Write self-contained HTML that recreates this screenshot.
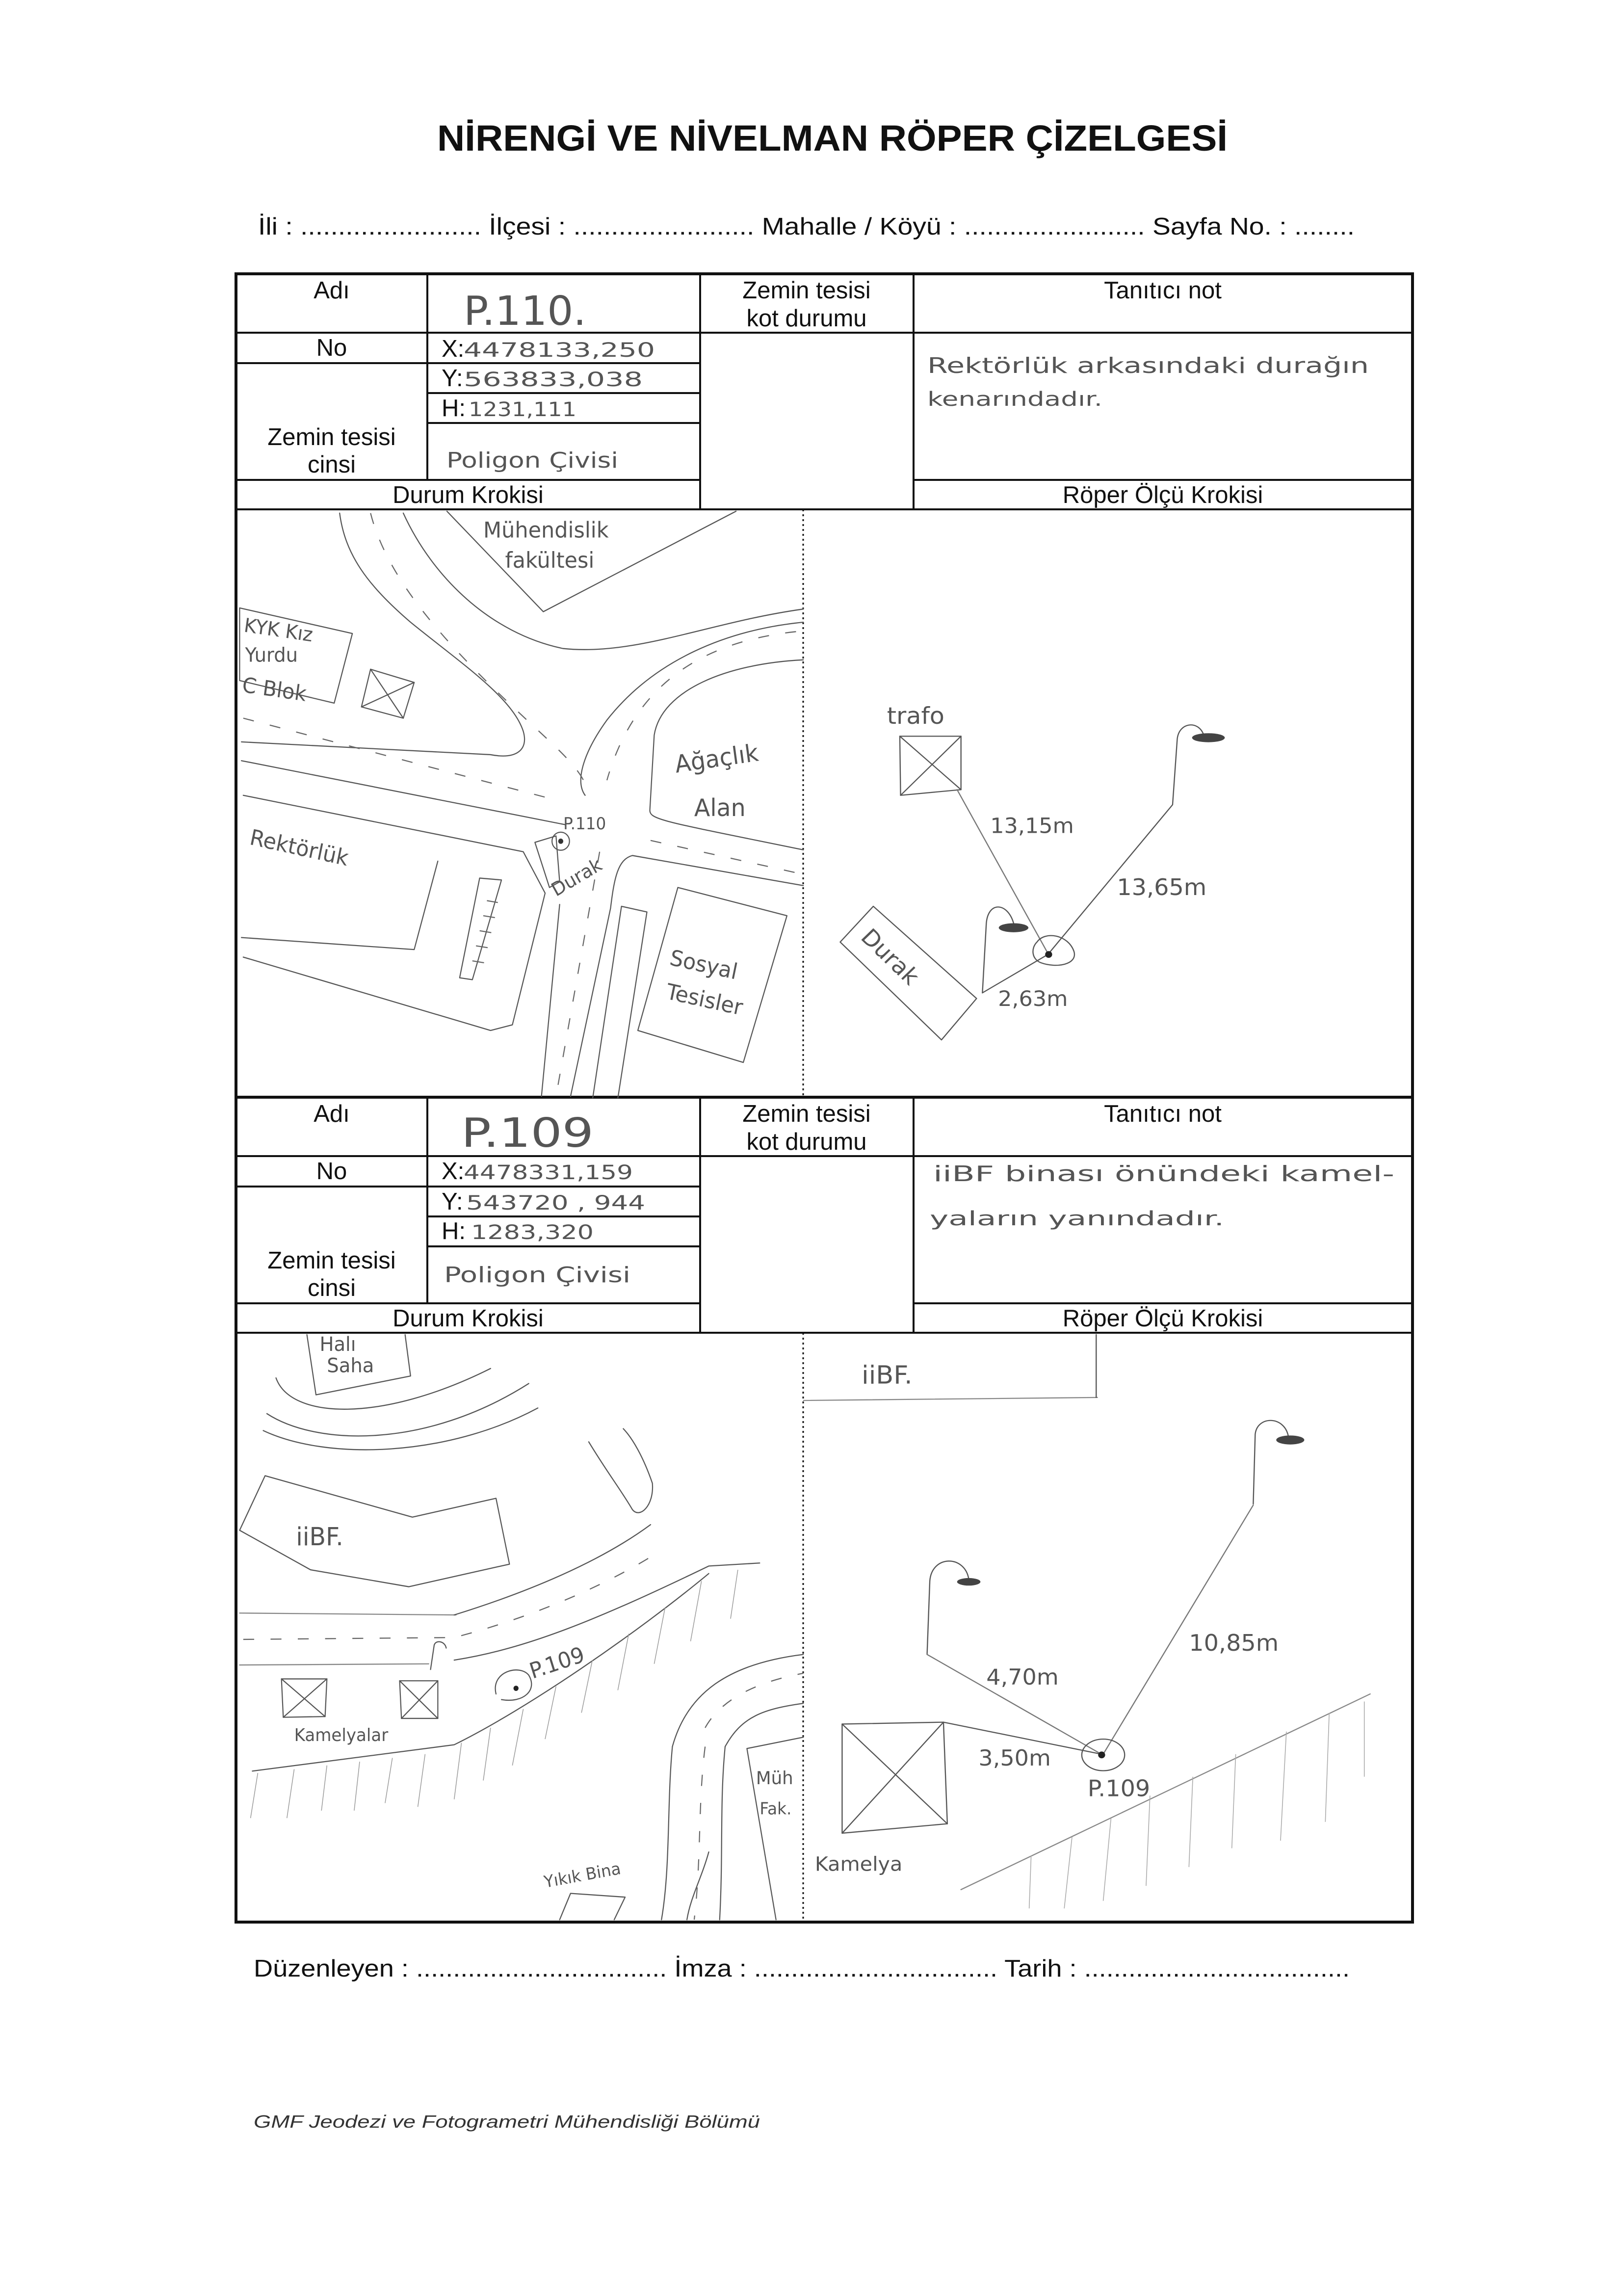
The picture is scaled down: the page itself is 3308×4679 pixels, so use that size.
<!DOCTYPE html>
<html><head><meta charset="utf-8">
<style>
html,body{margin:0;padding:0;background:#fff;}
svg{display:block;}
.lbl{font-family:"Liberation Sans",sans-serif;font-size:49px;fill:#111;}
.hw{font-family:"DejaVu Sans","Liberation Sans",sans-serif;fill:#555;}
</style></head>
<body>
<svg width="3308" height="4679" viewBox="0 0 3308 4679" xmlns="http://www.w3.org/2000/svg">
<rect width="3308" height="4679" fill="#fff"/>
<text x="891" y="307" font-family="Liberation Sans" font-weight="bold" font-size="74" textLength="1611" lengthAdjust="spacingAndGlyphs" fill="#111">NİRENGİ VE NİVELMAN RÖPER ÇİZELGESİ</text>
<text x="526" y="478" class="lbl" font-size="50" textLength="2235" lengthAdjust="spacingAndGlyphs">İli : ........................ İlçesi : ........................ Mahalle / Köyü : ........................ Sayfa No. : ........</text>

<!-- table frame -->
<g stroke="#111" fill="none">
<rect x="481" y="558" width="2398" height="3359" stroke-width="6"/>
</g>

<!-- block template -->
<g id="b1" stroke="#111" stroke-width="4" fill="none">
<line x1="481" y1="678" x2="2879" y2="678"/>
<line x1="481" y1="740" x2="1427" y2="740"/>
<line x1="871" y1="801" x2="1427" y2="801"/>
<line x1="871" y1="862" x2="1427" y2="862"/>
<line x1="481" y1="978" x2="1427" y2="978"/>
<line x1="1862" y1="978" x2="2879" y2="978"/>
<line x1="481" y1="1038" x2="2879" y2="1038"/>
<line x1="871" y1="558" x2="871" y2="978"/>
<line x1="1427" y1="558" x2="1427" y2="1038"/>
<line x1="1862" y1="558" x2="1862" y2="1038"/>
<line x1="1637" y1="1038" x2="1637" y2="2236" stroke-width="3" stroke-dasharray="4 6"/>
<line x1="481" y1="2236" x2="2879" y2="2236" stroke-width="6"/>
</g>
<g transform="translate(0,1678)" stroke="#111" stroke-width="4" fill="none">
<line x1="481" y1="678" x2="2879" y2="678"/>
<line x1="481" y1="740" x2="1427" y2="740"/>
<line x1="871" y1="801" x2="1427" y2="801"/>
<line x1="871" y1="862" x2="1427" y2="862"/>
<line x1="481" y1="978" x2="1427" y2="978"/>
<line x1="1862" y1="978" x2="2879" y2="978"/>
<line x1="481" y1="1038" x2="2879" y2="1038"/>
<line x1="871" y1="558" x2="871" y2="978"/>
<line x1="1427" y1="558" x2="1427" y2="1038"/>
<line x1="1862" y1="558" x2="1862" y2="1038"/>
<line x1="1637" y1="1038" x2="1637" y2="2239" stroke-width="3" stroke-dasharray="4 6"/>
</g>

<!-- labels block 1 and 2 -->
<g class="lbl" text-anchor="middle">
<text x="676" y="608">Adı</text>
<text x="676" y="725">No</text>
<text x="676" y="907">Zemin tesisi</text>
<text x="676" y="963">cinsi</text>
<text x="954" y="1025">Durum Krokisi</text>
<text x="1644" y="608">Zemin tesisi</text>
<text x="1644" y="665">kot durumu</text>
<text x="2370" y="608">Tanıtıcı not</text>
<text x="2370" y="1025">Röper Ölçü Krokisi</text>
</g>
<g class="lbl" text-anchor="middle" transform="translate(0,1678)">
<text x="676" y="608">Adı</text>
<text x="676" y="725">No</text>
<text x="676" y="907">Zemin tesisi</text>
<text x="676" y="963">cinsi</text>
<text x="954" y="1025">Durum Krokisi</text>
<text x="1644" y="608">Zemin tesisi</text>
<text x="1644" y="665">kot durumu</text>
<text x="2370" y="608">Tanıtıcı not</text>
<text x="2370" y="1025">Röper Ölçü Krokisi</text>
</g>
<g class="lbl">
<text x="900" y="727">X:</text><text x="900" y="787">Y:</text><text x="900" y="848">H:</text>
<text x="900" y="2403">X:</text><text x="900" y="2465">Y:</text><text x="900" y="2525">H:</text>
</g>
<!-- handwritten values -->
<g class="hw">
<text x="945" y="662" font-size="82" textLength="250" lengthAdjust="spacingAndGlyphs">P.110.</text>
<text x="945" y="727" font-size="40" textLength="390" lengthAdjust="spacingAndGlyphs">4478133,250</text>
<text x="945" y="787" font-size="40" textLength="365" lengthAdjust="spacingAndGlyphs">563833,038</text>
<text x="955" y="848" font-size="40" textLength="220" lengthAdjust="spacingAndGlyphs">1231,111</text>
<text x="910" y="953" font-size="44" textLength="350" lengthAdjust="spacingAndGlyphs">Poligon Çivisi</text>
<text x="1890" y="760" font-size="44" textLength="900" lengthAdjust="spacingAndGlyphs">Rektörlük arkasındaki durağın</text>
<text x="1890" y="827" font-size="40" textLength="357" lengthAdjust="spacingAndGlyphs">kenarındadır.</text>

<text x="940" y="2337" font-size="82" textLength="270" lengthAdjust="spacingAndGlyphs">P.109</text>
<text x="945" y="2403" font-size="40" textLength="345" lengthAdjust="spacingAndGlyphs">4478331,159</text>
<text x="950" y="2465" font-size="40" textLength="365" lengthAdjust="spacingAndGlyphs">543720 , 944</text>
<text x="960" y="2525" font-size="40" textLength="250" lengthAdjust="spacingAndGlyphs">1283,320</text>
<text x="905" y="2613" font-size="44" textLength="380" lengthAdjust="spacingAndGlyphs">Poligon Çivisi</text>
<text x="1902" y="2407" font-size="44" textLength="940" lengthAdjust="spacingAndGlyphs">iiBF binası önündeki kamel-</text>
<text x="1895" y="2497" font-size="40" textLength="600" lengthAdjust="spacingAndGlyphs">yaların yanındadır.</text>
</g>

<!-- Sketch 1: Durum Krokisi top -->
<svg x="481" y="1038" width="1160" height="1200" viewBox="0 0 1565 1565" preserveAspectRatio="none">
<g fill="none" stroke="#555" stroke-width="3" vector-effect="non-scaling-stroke" stroke-linecap="round" stroke-linejoin="round">
<polyline points="580,5 845,272 1375,5"/>
<path d="M285,10 C300,120 360,200 480,300 C620,410 760,500 790,590 C805,640 770,665 700,652 L15,618"/>
<path d="M460,10 C540,180 700,330 900,370 C1100,390 1300,300 1560,265"/>
<path d="M1560,300 C1350,320 1150,400 1020,560 C960,640 930,720 960,760"/>
<path d="M1560,400 C1350,410 1170,480 1150,600 L1138,800 C1138,825 1180,830 1560,905"/>
<path d="M1560,1000 L1090,920 C1050,930 1040,980 1030,1060 L920,1560"/>
<line x1="15" y1="668" x2="905" y2="838"/>
<path d="M20,760 L790,910 L850,1020 L760,1370 L700,1385 L20,1190"/>
<polyline points="15,1138 490,1170 555,935"/>
<line x1="890" y1="1050" x2="840" y2="1560"/>
<polygon points="10,262 320,330 270,515 10,455"/>
<polygon points="370,425 490,460 460,555 345,525"/>
<line x1="370" y1="425" x2="460" y2="555"/><line x1="490" y1="460" x2="345" y2="525"/>
<polygon points="670,980 730,985 650,1250 615,1245"/>
<polygon points="822,885 880,868 890,990 862,1005"/>
<polygon points="1060,1055 1130,1070 1025,1720 960,1700"/>
<polygon points="1215,1005 1515,1080 1395,1470 1105,1385"/>
<circle cx="893" cy="882" r="24"/>
</g>
<g fill="none" stroke="#666" stroke-width="3" stroke-dasharray="30 45" vector-effect="non-scaling-stroke">
<line x1="20" y1="555" x2="870" y2="770"/>
<path d="M370,10 C420,200 600,380 800,560 C900,650 960,700 970,760"/>
<path d="M1540,325 C1300,350 1100,450 1020,720"/>
<line x1="1140" y1="880" x2="1560" y2="970"/>
<line x1="1000" y1="910" x2="880" y2="1560"/>
</g>
<g stroke="#666" stroke-width="3" vector-effect="non-scaling-stroke">
<line x1="690" y1="1040" x2="720" y2="1045"/><line x1="680" y1="1080" x2="712" y2="1085"/>
<line x1="670" y1="1120" x2="702" y2="1125"/><line x1="660" y1="1160" x2="692" y2="1165"/>
<line x1="650" y1="1200" x2="682" y2="1205"/>
</g>
<circle cx="893" cy="882" r="7" fill="#333"/>
<g class="hw" font-size="58" fill="#555">
<text x="680" y="75">Mühendislik</text>
<text x="740" y="155">fakültesi</text>
<text x="20" y="325" font-size="52" transform="rotate(8 20 325)">KYK Kız</text>
<text x="25" y="405" font-size="52">Yurdu</text>
<text x="15" y="485" font-size="56" transform="rotate(8 15 485)">C Blok</text>
<text x="1210" y="700" font-size="64" transform="rotate(-8 1210 700)">Ağaçlık</text>
<text x="1260" y="815" font-size="64">Alan</text>
<text x="35" y="890" font-size="58" transform="rotate(12 35 890)">Rektörlük</text>
<text x="1190" y="1210" font-size="58" transform="rotate(12 1190 1210)">Sosyal</text>
<text x="1180" y="1300" font-size="58" transform="rotate(12 1180 1300)">Tesisler</text>
<text x="880" y="1030" font-size="50" transform="rotate(-30 880 1030)">Durak</text>
<text x="900" y="850" font-size="44">P.110</text>
</g>
</svg>

<!-- Sketch 2: Röper top -->
<svg x="1637" y="1038" width="1243" height="1200" viewBox="0 0 1565 1565" preserveAspectRatio="none">
<g fill="none" stroke="#555" stroke-width="3" vector-effect="non-scaling-stroke" stroke-linecap="round" stroke-linejoin="round">
<polygon points="248,603 405,603 405,745 250,760"/>
<line x1="248" y1="603" x2="405" y2="745"/><line x1="405" y1="603" x2="250" y2="760"/>
<line x1="395" y1="745" x2="628" y2="1180" stroke="#777"/>
<path d="M460,1285 L470,1100 C475,1040 525,1045 540,1100"/>
<line x1="460" y1="1285" x2="628" y2="1183"/>
<path d="M600,1150 C620,1120 680,1130 695,1175 C705,1210 650,1220 610,1205 C585,1195 585,1165 600,1150 Z"/>
<path d="M628,1183 L948,785 L960,610 C965,565 1015,560 1028,600"/>
<polygon points="180,1055 445,1300 355,1410 95,1150"/>
</g>
<ellipse cx="540" cy="1112" rx="38" ry="12" fill="#444"/>
<ellipse cx="1040" cy="607" rx="42" ry="12" fill="#444"/>
<circle cx="630" cy="1183" r="9" fill="#222"/>
<g class="hw" font-size="56" fill="#555">
<text x="215" y="570" font-size="62">trafo</text>
<text x="480" y="860">13,15m</text>
<text x="805" y="1025" font-size="60">13,65m</text>
<text x="500" y="1320">2,63m</text>
<text x="145" y="1140" font-size="60" transform="rotate(45 145 1140)">Durak</text>
</g>
</svg>

<!-- Sketch 3: Durum bottom -->
<svg x="481" y="2716" width="1160" height="1200" viewBox="0 0 1565 1565" preserveAspectRatio="none">
<g fill="none" stroke="#555" stroke-width="3" vector-effect="non-scaling-stroke" stroke-linecap="round" stroke-linejoin="round">
<polyline points="195,5 220,165 480,115 465,5"/>
<path d="M110,120 C150,230 400,240 700,95"/>
<path d="M85,215 C220,300 520,310 805,135"/>
<path d="M75,260 C250,340 580,330 830,200"/>
<polygon points="80,380 485,490 715,440 752,615 475,675 205,630 10,525"/>
<line x1="10" y1="745" x2="605" y2="750" stroke="#888"/>
<line x1="10" y1="883" x2="530" y2="880" stroke="#888"/>
<path d="M600,750 C800,690 1000,610 1140,510"/>
<path d="M600,870 C800,840 1000,760 1300,620 L1440,612"/>
<path d="M970,290 C1020,370 1060,420 1090,470 C1110,495 1150,460 1145,400 C1120,330 1090,280 1065,255"/>
<path d="M535,895 L545,830 C550,815 575,820 578,838"/>
<polygon points="125,920 250,920 245,1020 130,1022"/>
<line x1="125" y1="920" x2="245" y2="1020"/><line x1="250" y1="920" x2="130" y2="1022"/>
<polygon points="450,925 555,925 555,1025 455,1025"/>
<line x1="450" y1="925" x2="555" y2="1025"/><line x1="555" y1="925" x2="455" y2="1025"/>
<path d="M715,960 C700,900 780,880 805,910 C830,950 790,985 730,975"/>
<path d="M45,1165 L600,1095 C800,1000 1100,800 1300,640"/>
<path d="M1200,1100 C1240,960 1350,880 1560,855"/>
<path d="M1345,1100 C1390,1020 1450,1000 1560,985"/>
<path d="M1200,1100 C1185,1250 1195,1420 1170,1560"/>
<path d="M1345,1100 C1330,1250 1340,1380 1330,1560"/>
<path d="M1300,1380 C1280,1450 1250,1500 1240,1560"/>
<polyline points="1485,1560 1405,1105 1560,1075"/>
<polyline points="890,1560 920,1490 1070,1500 1040,1560"/>
</g>
<g stroke="#999" stroke-width="2" vector-effect="non-scaling-stroke">
<line x1="60" y1="1170" x2="40" y2="1290"/><line x1="160" y1="1160" x2="140" y2="1290"/>
<line x1="250" y1="1150" x2="235" y2="1270"/><line x1="340" y1="1140" x2="325" y2="1270"/>
<line x1="430" y1="1130" x2="410" y2="1250"/><line x1="520" y1="1120" x2="500" y2="1260"/>
<line x1="620" y1="1090" x2="600" y2="1240"/><line x1="700" y1="1050" x2="680" y2="1190"/>
<line x1="790" y1="1000" x2="760" y2="1150"/><line x1="880" y1="940" x2="850" y2="1080"/>
<line x1="980" y1="870" x2="950" y2="1010"/><line x1="1080" y1="800" x2="1050" y2="950"/>
<line x1="1180" y1="730" x2="1150" y2="880"/><line x1="1280" y1="660" x2="1250" y2="820"/>
<line x1="1380" y1="630" x2="1360" y2="760"/>
</g>
<g fill="none" stroke="#666" stroke-width="3" stroke-dasharray="30 45" vector-effect="non-scaling-stroke">
<path d="M20,815 L600,810 C800,760 1000,680 1150,590"/>
<path d="M1290,1050 C1330,980 1420,930 1560,905"/>
<path d="M1290,1100 C1270,1250 1280,1400 1260,1560"/>
</g>
<circle cx="770" cy="945" r="7" fill="#222"/>
<g class="hw" font-size="52" fill="#555">
<text x="230" y="48">Halı</text>
<text x="250" y="105">Saha</text>
<text x="165" y="565" font-size="66">iiBF.</text>
<text x="160" y="1085" font-size="46">Kamelyalar</text>
<text x="815" y="920" font-size="58" transform="rotate(-18 815 920)">P.109</text>
<text x="1430" y="1200" font-size="48">Müh</text>
<text x="1440" y="1280" font-size="44">Fak.</text>
<text x="850" y="1475" font-size="44" transform="rotate(-10 850 1475)">Yıkık Bina</text>
</g>
</svg>

<!-- Sketch 4: Röper bottom -->
<svg x="1637" y="2716" width="1243" height="1200" viewBox="0 0 1565 1565" preserveAspectRatio="none">
<g fill="none" stroke="#555" stroke-width="3" vector-effect="non-scaling-stroke" stroke-linecap="round" stroke-linejoin="round">
<line x1="0" y1="180" x2="755" y2="172" stroke="#888"/>
<line x1="752" y1="5" x2="752" y2="172"/>
<path d="M1155,455 L1160,270 C1165,220 1235,220 1245,275"/>
<line x1="1155" y1="458" x2="770" y2="1120" stroke="#777"/>
<path d="M318,855 L325,660 C330,590 415,590 425,655"/>
<line x1="318" y1="855" x2="765" y2="1120" stroke="#777"/>
<polygon points="100,1040 360,1035 370,1305 100,1330"/>
<line x1="100" y1="1040" x2="370" y2="1305"/><line x1="360" y1="1035" x2="100" y2="1330"/>
<line x1="360" y1="1035" x2="765" y2="1120"/>
<ellipse cx="770" cy="1122" rx="55" ry="42"/>
<line x1="405" y1="1480" x2="1455" y2="960" stroke="#888"/>
</g>
<g stroke="#aaa" stroke-width="2" vector-effect="non-scaling-stroke">
<line x1="585" y1="1390" x2="580" y2="1530"/><line x1="690" y1="1340" x2="670" y2="1530"/>
<line x1="790" y1="1290" x2="770" y2="1510"/><line x1="890" y1="1230" x2="880" y2="1470"/>
<line x1="1000" y1="1180" x2="990" y2="1420"/><line x1="1110" y1="1120" x2="1100" y2="1370"/>
<line x1="1240" y1="1060" x2="1225" y2="1350"/><line x1="1350" y1="1010" x2="1340" y2="1300"/>
<line x1="1440" y1="980" x2="1440" y2="1180"/>
</g>
<ellipse cx="425" cy="662" rx="30" ry="10" fill="#444"/>
<ellipse cx="1250" cy="285" rx="36" ry="12" fill="#444"/>
<circle cx="766" cy="1122" r="9" fill="#222"/>
<g class="hw" font-size="58" fill="#555">
<text x="150" y="135" font-size="66">iiBF.</text>
<text x="990" y="845" font-size="60">10,85m</text>
<text x="470" y="935">4,70m</text>
<text x="450" y="1150">3,50m</text>
<text x="730" y="1232" font-size="60">P.109</text>
<text x="30" y="1430" font-size="52">Kamelya</text>
</g>
</svg>

<text x="517" y="4028" class="lbl" font-size="52" textLength="2234" lengthAdjust="spacingAndGlyphs">Düzenleyen : .................................. İmza : ................................. Tarih : ....................................</text>
<text x="517" y="4336" font-family="Liberation Sans" font-style="italic" font-size="36" fill="#333" textLength="1032" lengthAdjust="spacingAndGlyphs">GMF Jeodezi ve Fotogrametri Mühendisliği Bölümü</text>
</svg>
</body></html>
